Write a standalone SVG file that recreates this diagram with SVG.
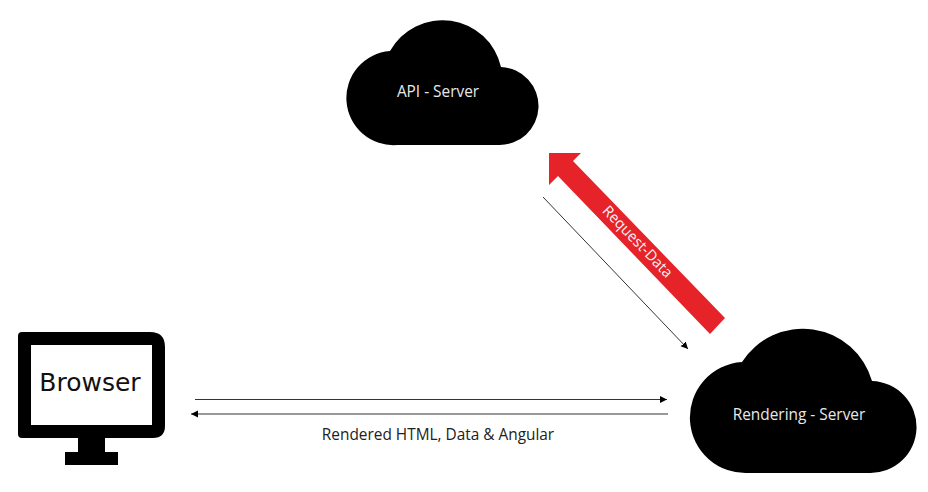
<svg xmlns="http://www.w3.org/2000/svg" width="928" height="492" viewBox="0 0 928 492">
<style>
text{font-family:"Open Sans","Liberation Sans",sans-serif;font-size:15.4px}
.w{fill:#e8e8e8;text-anchor:middle}
.c{fill:#000}
.l{stroke:#333;stroke-width:1;fill:none}
</style>
<defs>
<marker id="a" markerUnits="userSpaceOnUse" markerWidth="8" markerHeight="8" refX="7" refY="3.5" orient="auto"><path d="M0,0L7,3.5L0,7Z" fill="#000"/></marker>
</defs>
<rect width="928" height="492" fill="#fff"/>
<g id="connectors">
<line class="l" x1="195" y1="399.5" x2="667" y2="399.5" marker-end="url(#a)"/>
<line class="l" x1="668" y1="414" x2="191" y2="414" marker-end="url(#a)"/>
<line class="l" x1="543" y1="197" x2="688" y2="349" marker-end="url(#a)"/>
<g id="request-data">
<path d="M549,153L581,153L573,161L725,318L710,334L558,176L549,185Z" fill="#e52329"/>
<text transform="translate(634,245) rotate(46)" text-anchor="middle" style="fill:#f4f4f4;font-size:14.8px">Request-Data</text>
</g>
</g>
<g id="api-server">
<path class="c" d="M390,51A60,60 0 0 1 501,67A39,39 0 0 1 498,145L397,145A47,47 0 0 1 390,51Z"/>
<text class="w" x="438" y="97">API - Server</text>
</g>
<g id="rendering-server">
<path class="c" d="M742,362A72,72 0 0 1 872,381A46,46 0 0 1 869,473L749,473A55.5,55.5 0 0 1 742,362Z"/>
<text class="w" x="799" y="420">Rendering - Server</text>
</g>
<g id="browser">
<path class="c" fill-rule="evenodd" d="M22,332H150Q165,332 165,347V426Q165,438 153,438H22Q18,438 18,434V336Q18,332 22,332ZM31,345V425H152V345Z"/>
<path class="c" d="M78,438H105V452H118V465H65V452H78Z"/>
<text x="90" y="391" text-anchor="middle" style="font-family:'DejaVu Sans',sans-serif;font-size:25px;fill:#111">Browser</text>
</g>
<text id="edge-label" x="438" y="440" text-anchor="middle" fill="#222">Rendered HTML, Data &amp; Angular</text>
</svg>
